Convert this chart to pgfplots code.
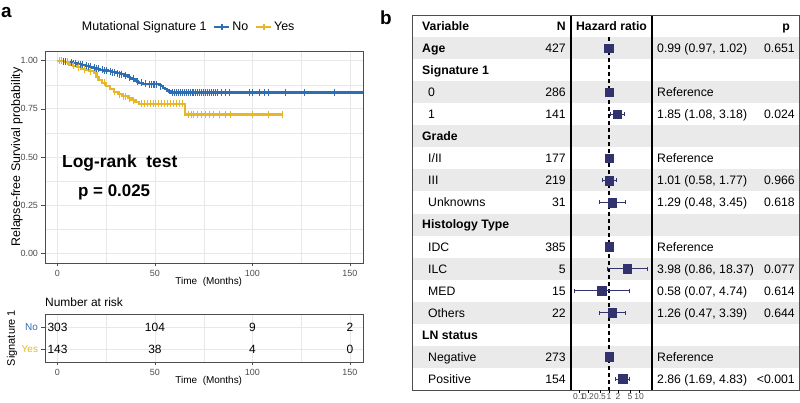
\documentclass[border=0pt]{standalone}
\usepackage{pgfplots}
\pgfplotsset{compat=1.18}
\usepackage{fontspec}
\setmainfont{Liberation Sans}
\definecolor{kmblue}{RGB}{46,110,180}
\definecolor{kmyel}{RGB}{230,184,40}
\definecolor{navy}{RGB}{50,50,110}
\definecolor{rowgrey}{RGB}{234,234,234}
\definecolor{gridc}{RGB}{232,232,232}
\definecolor{tickc}{RGB}{77,77,77}
\newcommand{\fs}[1]{\fontsize{#1}{#1}\selectfont}
\begin{document}
\begin{tikzpicture}[tb/.style={anchor=base west, yshift=-4.4bp, inner sep=0pt, font=\fs{12.3}},
  tr/.style={anchor=base east, yshift=-4.4bp, inner sep=0pt, font=\fs{12.3}},
  tbb/.style={tb, font=\fs{12.3}\bfseries}]
\useasboundingbox (0,0) rectangle (800bp,403bp);
\node[anchor=base west, inner sep=0pt, font=\fs{19}\bfseries] at (1bp,385bp) {a};
\node[anchor=base west, inner sep=0pt, font=\fs{19}\bfseries] at (380bp,378bp) {b};

% ---------------- KM plot ----------------
\begin{axis}[
  at={(45bp,140bp)}, anchor=south west,
  scale only axis, width=318bp, height=212bp,
  xmin=-6.4, xmax=156.7, ymin=-0.05, ymax=1.05,
  xtick={0,50,100,150}, ytick={0,0.25,0.5,0.75,1},
  yticklabels={0.00,0.25,0.50,0.75,1.00},
  minor xtick={25,75,125}, minor ytick={0.125,0.375,0.625,0.875},
  grid=both,
  major grid style={gridc, line width=0.7bp},
  minor grid style={gridc, line width=0.4bp},
  axis line style={tickc, line width=0.7bp},
  tick style={tickc, line width=0.5bp},
  tick align=outside, major tick length=3.5bp, minor tick length=0pt,
  tick pos=left,
  ticklabel style={font=\fs{9}, text=tickc},
  /pgf/number format/assume math mode=true,
  xlabel={Time~~(Months)}, ylabel={Relapse-free Survival probability},
  xlabel style={font=\fs{10}, at={(axis description cs:0.515,-0.09)}, anchor=center},
  ylabel style={font=\fs{12.5}, at={(axis description cs:-0.088,0.5)}, anchor=center},
  legend columns=3,
  legend style={draw=none, fill=none, font=\fs{12.5}, at={(axis description cs:0.10,1.113)}, anchor=west,
    /tikz/every even column/.append style={column sep=5bp}},
  legend image code/.code={\draw[mark repeat=2,mark phase=2,#1] plot coordinates {(0bp,0bp) (7.5bp,0bp) (15bp,0bp)};},
]
\addlegendimage{empty legend}\addlegendentry{Mutational Signature 1}
\addlegendimage{kmblue, line width=1.8bp, mark=+, mark size=3bp}\addlegendentry{No}
\addlegendimage{kmyel, line width=1.8bp, mark=+, mark size=3bp}\addlegendentry{Yes}

\addplot[forget plot, const plot mark left, kmblue, line width=2.2bp] coordinates {
(0,1) (2,0.997) (4,0.993) (6,0.99) (8,0.986) (10,0.982) (12,0.978) (14,0.974) (16,0.968) (18,0.963)
(20,0.958) (22,0.953) (24,0.949) (26,0.945) (28,0.94) (30,0.935) (32,0.93) (34,0.923) (36,0.915)
(37,0.91) (38,0.905) (40,0.895) (41,0.89) (42,0.885) (44,0.88) (46,0.877) (52,0.874) (53,0.868)
(54,0.86) (55,0.852) (56,0.845) (57,0.84) (58,0.835) (160,0.835)};
\addplot[forget plot, only marks, mark=|, mark size=3.5bp, kmblue, line width=1bp] coordinates {
(3,0.997)(4,0.993)(5,0.993)(7,0.99)(8,0.986)(9,0.986)(11,0.982)(12,0.978)(13,0.978)(15,0.974)(16,0.968)
(17,0.968)(19,0.963)(20,0.958)(21,0.958)(23,0.953)(24,0.949)(25,0.949)(27,0.945)(28,0.94)(29,0.94)
(31,0.935)(32,0.93)(33,0.93)(35,0.923)(37,0.91)(39,0.905)(41,0.89)(43,0.885)(45,0.88)(47,0.877)
(48,0.877)(49,0.877)(50,0.877)(51,0.877)(53,0.868)(59,0.835)(60,0.835)(61,0.835)(62,0.835)
(63,0.835)(64,0.835)(65,0.835)(66,0.835)(67,0.835)(68,0.835)(69,0.835)(70,0.835)(71,0.835)(72,0.835)
(73,0.835)(74,0.835)(75,0.835)(76,0.835)(77,0.835)(78,0.835)(79,0.835)(80,0.835)(81,0.835)(82,0.835)
(84,0.835)(86,0.835)(88,0.835)(98.7,0.835)(100.2,0.835)(103.8,0.835)(106.4,0.835)(108,0.835)
(116.7,0.835)(126.9,0.835)(142.3,0.835)};
\addplot[forget plot, const plot mark left, kmyel, line width=2.2bp] coordinates {
(0,1) (4,0.993) (6,0.98) (8,0.973) (10,0.965) (12,0.958) (14,0.952) (16,0.946) (19,0.935) (20,0.915)
(21,0.9) (23,0.885) (25,0.868) (27,0.852) (29,0.838) (31,0.825) (33,0.815) (36,0.805) (38,0.795)
(40,0.785) (42,0.775) (65.5,0.72) (115.5,0.72)};
\addplot[forget plot, only marks, mark=|, mark size=3.5bp, kmyel, line width=1bp] coordinates {
(1,1)(2,1)(5,0.993)(8,0.973)(11,0.965)(14,0.952)(17,0.946)(24,0.885)(29,0.838)(32,0.825)(34,0.815)(35,0.815)
(37,0.805)(39,0.795)(43,0.775)(44.5,0.775)(46,0.775)(47.5,0.775)(49,0.775)(50.5,0.775)(52,0.775)
(53.5,0.775)(55,0.775)(56.5,0.775)(58,0.775)(59.5,0.775)(61,0.775)(62.5,0.775)(64,0.775)(67,0.72)
(68.5,0.72)(70,0.72)(72,0.72)(74,0.72)(76,0.72)(78,0.72)(80,0.72)(83,0.72)(86,0.72)(88.5,0.72)
(100,0.72)(108,0.72)(115.5,0.72)};
\node[anchor=west, inner sep=0pt, font=\fs{17.5}\bfseries] at (axis cs:2.3,0.468) {Log-rank~~test};
\node[anchor=west, inner sep=0pt, font=\fs{17}\bfseries] at (axis cs:10.5,0.317) {p = 0.025};
\end{axis}

% ---------------- Risk table ----------------
\begin{axis}[
  at={(45bp,41bp)}, anchor=south west,
  scale only axis, width=318bp, height=48bp,
  clip mode=individual,
  xmin=-6.4, xmax=156.7, ymin=0.4, ymax=2.6,
  xtick={0,50,100,150}, minor xtick={25,75,125},
  ytick={1,2}, yticklabels={\textcolor{kmyel}{Yes},\textcolor{kmblue}{No}},
  xmajorgrids, xminorgrids, ymajorgrids,
  major grid style={gridc, line width=0.7bp},
  minor grid style={gridc, line width=0.4bp},
  axis line style={tickc, line width=0.7bp},
  tick style={tickc, line width=0.5bp},
  tick align=outside, major tick length=3.5bp, minor tick length=0pt,
  tick pos=left,
  xticklabel style={font=\fs{9}, text=tickc},
  yticklabel style={font=\fs{10}},
  /pgf/number format/assume math mode=true,
  xlabel={Time~~(Months)}, ylabel={Signature 1},
  xlabel style={font=\fs{10}, at={(axis description cs:0.515,-0.396)}, anchor=center},
  ylabel style={font=\fs{11}, at={(axis description cs:-0.104,0.5)}, anchor=center},
]
\addplot[only marks, mark=*, mark size=0pt, mark options={draw=none,fill=none},
  nodes near coords, point meta=explicit symbolic,
  nodes near coords style={anchor=center, font=\fs{12}, text=black, inner sep=0pt}] coordinates {
(0,2)[303] (50,2)[104] (100,2)[9] (150,2)[2]
(0,1)[143] (50,1)[38] (100,1)[4] (150,1)[0]};
\node[anchor=west, inner sep=0pt, font=\fs{12}] at (axis description cs:0,1.25) {Number at risk};
\end{axis}

% ---------------- Forest table ----------------
\begin{axis}[
  at={(412bp,13bp)}, anchor=south west,
  scale only axis, width=387bp, height=375bp,
  xmin=412, xmax=799, ymin=-16.5, ymax=0.5,
  ticks=none, axis line style={tickc, line width=0.8bp}, axis on top,
]
\fill[rowgrey] (axis cs:412,-0.5) rectangle (axis cs:799,-1.5);
\fill[rowgrey] (axis cs:412,-2.5) rectangle (axis cs:799,-3.5);
\fill[rowgrey] (axis cs:412,-4.5) rectangle (axis cs:799,-5.5);
\fill[rowgrey] (axis cs:412,-6.5) rectangle (axis cs:799,-7.5);
\fill[rowgrey] (axis cs:412,-8.5) rectangle (axis cs:799,-9.5);
\fill[rowgrey] (axis cs:412,-10.5) rectangle (axis cs:799,-11.5);
\fill[rowgrey] (axis cs:412,-12.5) rectangle (axis cs:799,-13.5);
\fill[rowgrey] (axis cs:412,-14.5) rectangle (axis cs:799,-15.5);
\draw[black, line width=1.3bp] (axis cs:571,0.5) -- (axis cs:571,-16.5);
\draw[black, line width=1.3bp] (axis cs:652,0.5) -- (axis cs:652,-16.5);
% header
\node[tbb] at (axis cs:422,0) {Variable};
\node[tr, font=\fs{12.3}\bfseries] at (axis cs:566,0) {N};
\node[anchor=base, yshift=-4.4bp, inner sep=0pt, font=\fs{12.3}\bfseries] at (axis cs:611.5,0) {Hazard ratio};
\node[tr, font=\fs{12.3}\bfseries] at (axis cs:790,0) {p};
% groups
\node[tbb] at (axis cs:422,-1) {Age};
\node[tbb] at (axis cs:422,-2) {Signature 1};
\node[tbb] at (axis cs:422,-5) {Grade};
\node[tbb] at (axis cs:422,-9) {Histology Type};
\node[tbb] at (axis cs:422,-14) {LN status};
% levels
\node[tb] at (axis cs:428,-3) {0};
\node[tb] at (axis cs:428,-4) {1};
\node[tb] at (axis cs:428,-6) {I/II};
\node[tb] at (axis cs:428,-7) {III};
\node[tb] at (axis cs:428,-8) {Unknowns};
\node[tb] at (axis cs:428,-10) {IDC};
\node[tb] at (axis cs:428,-11) {ILC};
\node[tb] at (axis cs:428,-12) {MED};
\node[tb] at (axis cs:428,-13) {Others};
\node[tb] at (axis cs:428,-15) {Negative};
\node[tb] at (axis cs:428,-16) {Positive};
% N
\node[tr] at (axis cs:566,-1) {427};
\node[tr] at (axis cs:566,-3) {286};
\node[tr] at (axis cs:566,-4) {141};
\node[tr] at (axis cs:566,-6) {177};
\node[tr] at (axis cs:566,-7) {219};
\node[tr] at (axis cs:566,-8) {31};
\node[tr] at (axis cs:566,-10) {385};
\node[tr] at (axis cs:566,-11) {5};
\node[tr] at (axis cs:566,-12) {15};
\node[tr] at (axis cs:566,-13) {22};
\node[tr] at (axis cs:566,-15) {273};
\node[tr] at (axis cs:566,-16) {154};
% estimates
\node[tb] at (axis cs:657,-1) {0.99 (0.97, 1.02)};
\node[tb] at (axis cs:657,-3) {Reference};
\node[tb] at (axis cs:657,-4) {1.85 (1.08, 3.18)};
\node[tb] at (axis cs:657,-6) {Reference};
\node[tb] at (axis cs:657,-7) {1.01 (0.58, 1.77)};
\node[tb] at (axis cs:657,-8) {1.29 (0.48, 3.45)};
\node[tb] at (axis cs:657,-10) {Reference};
\node[tb] at (axis cs:657,-11) {3.98 (0.86, 18.37)};
\node[tb] at (axis cs:657,-12) {0.58 (0.07, 4.74)};
\node[tb] at (axis cs:657,-13) {1.26 (0.47, 3.39)};
\node[tb] at (axis cs:657,-15) {Reference};
\node[tb] at (axis cs:657,-16) {2.86 (1.69, 4.83)};
% p
\node[tr] at (axis cs:795,-1) {0.651};
\node[tr] at (axis cs:795,-4) {0.024};
\node[tr] at (axis cs:795,-7) {0.966};
\node[tr] at (axis cs:795,-8) {0.618};
\node[tr] at (axis cs:795,-11) {0.077};
\node[tr] at (axis cs:795,-12) {0.614};
\node[tr] at (axis cs:795,-13) {0.644};
\node[tr] at (axis cs:795,-16) {<0.001};
\end{axis}

% ---------------- Forest plot ----------------
\begin{axis}[
  at={(571bp,13bp)}, anchor=south west,
  scale only axis, width=81bp, height=375bp,
  xmode=log, xmin=0.054, xmax=27.1, ymin=-16.5, ymax=0.5,
  axis y line=none, axis x line=bottom, x axis line style={draw=none},
  xtick={0.1,0.2,0.5,1,2,5,10}, xticklabels={0.1,0.2,0.5,1,2,5,10},
  xminorticks=false, xtick align=outside, major tick length=2.5bp,
  tick style={black, line width=0.5bp},
  xticklabel style={font=\fs{8.5}, text=tickc, inner sep=0.5bp},
  /pgf/number format/assume math mode=true,
]
\addplot[black, line width=1.2bp, dash pattern=on 4bp off 3bp] coordinates {(1,-0.5) (1,-16.5)};
\addplot[navy, line width=0.8bp, mark=|, mark size=2bp, unbounded coords=jump] coordinates {
(0.97,-1) (1.02,-1) (nan,nan)
(1.08,-4) (3.18,-4) (nan,nan)
(0.58,-7) (1.77,-7) (nan,nan)
(0.48,-8) (3.45,-8) (nan,nan)
(0.86,-11) (18.37,-11) (nan,nan)
(0.07,-12) (4.74,-12) (nan,nan)
(0.47,-13) (3.39,-13) (nan,nan)
(1.69,-16) (4.83,-16)};
\addplot[only marks, mark=square*, mark size=4.3bp, navy] coordinates {
(0.99,-1) (1,-3) (1.85,-4) (1,-6) (1.01,-7) (1.29,-8) (1,-10) (3.98,-11) (0.58,-12) (1.26,-13) (1,-15) (2.86,-16)};
\end{axis}
\end{tikzpicture}
\end{document}
